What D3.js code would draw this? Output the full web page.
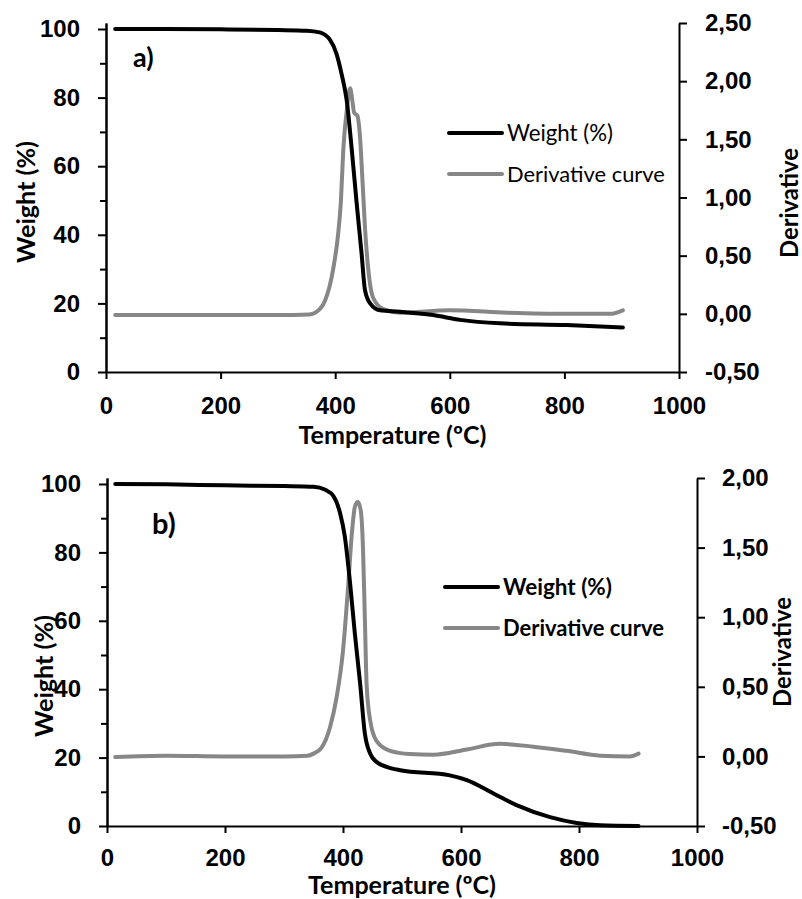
<!DOCTYPE html>
<html>
<head>
<meta charset="utf-8">
<script src="https://cdnjs.cloudflare.com/ajax/libs/d3/7.8.5/d3.min.js"></script>
<style>
    body { margin: 0; background: #fff; }
    svg { display: block; font-family: Lato, "Open Sans", sans-serif; }
    .axis path, .axis line { stroke: #000; stroke-width: 2; }
    .axis text { font-size: 24px; font-weight: bold; fill: #000; }
</style>
</head>
<body>
<svg id="chart" width="802" height="899"></svg>
<script>

// panel a) weight loss curve
var tempWeightA = [16, 100, 200, 300, 350, 373, 391, 402, 411, 420, 429, 437, 446, 452, 461, 478, 513, 571, 618, 688, 804, 902];
var weightA = [100, 100, 99.9, 99.7, 99.5, 99.0, 96.8, 92.9, 87, 79.3, 64.7, 50, 34.6, 23.9, 20, 18, 17.6, 16.6, 15.2, 14.2, 13.7, 13.0];

// panel a) derivative curve
var tempDerivA = [16, 150, 300, 355, 373, 382, 397, 405, 410, 414, 420, 426, 430, 433, 439, 443, 448, 452, 458, 466, 484, 513, 600, 700, 800, 880, 902];
var derivA = [-0.01, -0.01, -0.01, -0.005, 0.04, 0.11, 0.40, 0.68, 0.97, 1.40, 1.74, 1.94, 1.83, 1.73, 1.70, 1.54, 1.11, 0.74, 0.37, 0.14, 0.04, 0.01, 0.03, 0.01, 0.0, 0.0, 0.03];

// panel b) weight loss curve
var tempWeightB = [14, 100, 200, 300, 350, 370, 384, 395, 403, 412, 420, 429, 437, 446, 457, 474, 497, 581, 610, 655, 694, 751, 796, 836, 901];
var weightB = [100, 99.9, 99.6, 99.4, 99.2, 98.3, 96.4, 91.5, 84.7, 71, 56.4, 41.7, 27.1, 21.2, 18.7, 17.3, 16.3, 14.8, 13.4, 9.5, 6.1, 2.6, 0.9, 0.2, 0];

// panel b) derivative curve
var tempDerivB = [14, 100, 200, 300, 340, 350, 364, 378, 389, 400, 409, 415, 420, 425, 430, 434, 437, 440, 446, 457, 480, 513, 553, 610, 666, 723, 779, 836, 886, 901];
var derivB = [-0.005, 0.005, 0, 0, 0.005, 0.02, 0.065, 0.21, 0.42, 0.76, 1.24, 1.6, 1.79, 1.83, 1.77, 1.48, 1.0, 0.52, 0.26, 0.11, 0.04, 0.017, 0.012, 0.05, 0.09, 0.07, 0.04, 0.005, 0, 0.02];

var xTicks = [0, 200, 400, 600, 800, 1000];
var weightTicks = [0, 20, 40, 60, 80, 100];
var weightMinorTicks = [10, 30, 50, 70, 90];
var derivTicksA = [-0.5, 0, 0.5, 1, 1.5, 2, 2.5];
var derivTicksB = [-0.5, 0, 0.5, 1, 1.5, 2];
var seriesNames = ['Weight (%)', 'Derivative curve'];
var seriesColors = ['#000000', '#878787'];

var commaFormat = d3.formatLocale({
    decimal: ',', thousands: '.', grouping: [3], currency: ['', ''], minus: '-'
}).format('.2f');

var svg = d3.select('#chart');

// scale a text so its rendered width matches the reference width
function fitText(sel, width) {
    var w = sel.node().getComputedTextLength();
    var size = parseFloat(sel.attr('font-size'));
    sel.attr('font-size', size * width / w);
}

function drawPanel(cfg) {

    var x = d3.scaleLinear().domain([0, 1000]).range([cfg.left, cfg.right]);
    var yW = d3.scaleLinear().domain([0, 101.75]).range([cfg.bottom, cfg.top]);
    var yD = d3.scaleLinear().domain(d3.extent(cfg.derivTicks)).range([cfg.bottom, cfg.top]);

    var g = svg.append('g');

    g.append('g')
        .attr('class', 'axis')
        .attr('transform', 'translate(' + [0, cfg.bottom] + ')')
        .call(d3.axisBottom(x).tickValues(xTicks).tickSize(7).tickPadding(cfg.xPad)
            .tickSizeOuter(0).tickFormat(d => String(d)));

    g.append('g')
        .attr('class', 'axis')
        .attr('transform', 'translate(' + [cfg.left, 0] + ')')
        .call(d3.axisLeft(yW).tickValues(weightMinorTicks).tickSize(6).tickFormat('').tickSizeOuter(0));

    g.append('g')
        .attr('class', 'axis')
        .attr('transform', 'translate(' + [cfg.left, 0] + ')')
        .call(d3.axisLeft(yW).tickValues(weightTicks).tickSize(8).tickPadding(cfg.leftPad).tickSizeOuter(0));

    g.append('g')
        .attr('class', 'axis')
        .attr('transform', 'translate(' + [cfg.right, 0] + ')')
        .call(d3.axisRight(yD).tickValues(cfg.derivTicks).tickSize(8).tickPadding(cfg.rightPad)
            .tickSizeOuter(0).tickFormat(commaFormat));

    var lineW = d3.line()
        .x((d, i) => x(cfg.tempWeight[i]))
        .y(d => yW(d))
        .curve(d3.curveMonotoneX);

    var lineD = d3.line()
        .x((d, i) => x(cfg.tempDeriv[i]))
        .y(d => yD(d))
        .curve(d3.curveMonotoneX);

    g.append('path')
        .attr('d', lineD(cfg.deriv))
        .attr('fill', 'none')
        .attr('stroke', seriesColors[1])
        .attr('stroke-width', 4)
        .attr('stroke-linecap', 'round');

    g.append('path')
        .attr('d', lineW(cfg.weight))
        .attr('fill', 'none')
        .attr('stroke', seriesColors[0])
        .attr('stroke-width', 4)
        .attr('stroke-linecap', 'round');

    // axis titles
    var xTitle = g.append('text')
        .attr('x', (cfg.left + cfg.right) / 2)
        .attr('y', cfg.xTitleY)
        .attr('text-anchor', 'middle')
        .attr('font-size', 22)
        .attr('font-weight', 'bold')
        .text('Temperature (ºC)');
    fitText(xTitle, 188);

    var yTitle = g.append('text')
        .attr('transform', 'translate(' + [cfg.yTitleX, cfg.yTitleY] + ') rotate(-90)')
        .attr('text-anchor', 'middle')
        .attr('font-size', 22)
        .attr('font-weight', 'bold')
        .text('Weight (%)');
    fitText(yTitle, 122);

    var dTitle = g.append('text')
        .attr('transform', 'translate(' + [cfg.dTitleX, cfg.dTitleY] + ') rotate(-90)')
        .attr('text-anchor', 'middle')
        .attr('font-size', 22)
        .attr('font-weight', 'bold')
        .text('Derivative');
    fitText(dTitle, 110);

    g.append('text')
        .attr('x', cfg.labelX)
        .attr('y', cfg.labelY)
        .attr('font-size', cfg.labelSize)
        .attr('font-weight', 'bold')
        .text(cfg.label);

    // legend
    var legend = g.selectAll('g.legend')
        .data(seriesNames)
        .enter()
        .append('g')
        .attr('class', 'legend')
        .attr('transform', (d, i) => 'translate(' + [cfg.legendX, cfg.legendY + i * cfg.legendStep] + ')');

    legend.append('line')
        .attr('x1', 0)
        .attr('x2', 53)
        .attr('stroke', (d, i) => seriesColors[i])
        .attr('stroke-width', 4)
        .attr('stroke-linecap', 'round');

    legend.append('text')
        .attr('x', 58)
        .attr('dy', '0.36em')
        .attr('font-size', 20)
        .attr('font-weight', cfg.legendWeight)
        .text(d => d)
        .each(function(d, i) {
            fitText(d3.select(this), cfg.legendWidths[i]);
        });
}

drawPanel({
    left: 106, right: 679, top: 23, bottom: 372,
    tempWeight: tempWeightA, weight: weightA,
    tempDeriv: tempDerivA, deriv: derivA,
    derivTicks: derivTicksA,
    xPad: 18, leftPad: 18, rightPad: 18,
    xTitleY: 444,
    yTitleX: 35, yTitleY: 202,
    dTitleX: 798, dTitleY: 203,
    label: 'a)', labelX: 133, labelY: 67, labelSize: 27,
    legendX: 449, legendY: 133, legendStep: 41,
    legendWeight: 'normal', legendWidths: [106, 158]
});

drawPanel({
    left: 107, right: 697, top: 478, bottom: 826,
    tempWeight: tempWeightB, weight: weightB,
    tempDeriv: tempDerivB, deriv: derivB,
    derivTicks: derivTicksB,
    xPad: 16, leftPad: 18, rightPad: 17,
    xTitleY: 894,
    yTitleX: 53, yTitleY: 676,
    dTitleX: 791, dTitleY: 652,
    label: 'b)', labelX: 152, labelY: 534, labelSize: 29,
    legendX: 445, legendY: 587, legendStep: 41,
    legendWeight: 'bold', legendWidths: [109, 161]
});

</script>
</body>
</html>
